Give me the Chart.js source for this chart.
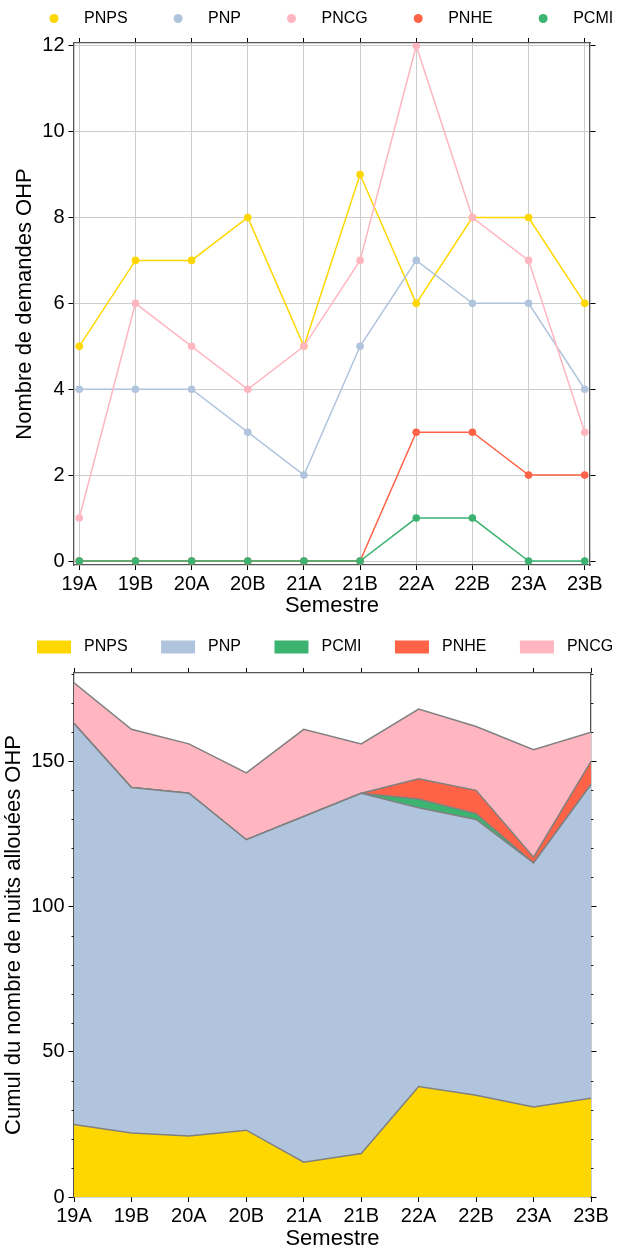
<!DOCTYPE html>
<html>
<head>
<meta charset="utf-8">
<script src="https://cdn.jsdelivr.net/npm/chart.js@4.4.1/dist/chart.umd.min.js"></script>
<style>
  html, body { margin:0; padding:0; background:#fff; overflow:hidden; }
  canvas { position:absolute; left:0; }
  #demandesChart { top:0; }
  #nuitsChart { top:625px; }
</style>
</head>
<body>
<canvas id="demandesChart" width="619" height="625"></canvas>
<canvas id="nuitsChart" width="619" height="622"></canvas>
<script>
const semestres = ['19A','19B','20A','20B','21A','21B','22A','22B','23A','23B'];

// nombre de demandes OHP par programme
const demandesPNPS = [5, 7, 7, 8, 5, 9, 6, 8, 8, 6];
const demandesPNP  = [4, 4, 4, 3, 2, 5, 7, 6, 6, 4];
const demandesPNCG = [1, 6, 5, 4, 5, 7, 12, 8, 7, 3];
const demandesPNHE = [0, 0, 0, 0, 0, 0, 3, 3, 2, 2];
const demandesPCMI = [0, 0, 0, 0, 0, 0, 1, 1, 0, 0];
const demandesTicks = [0, 2, 4, 6, 8, 10, 12];

// nuits allouées OHP (empilées)
const nuitsPNPS = [25, 22, 21, 23, 12, 15, 38, 35, 31, 34];
const nuitsPNP  = [138, 119, 118, 100, 119, 124, 96, 95, 84, 108];
const nuitsPCMI = [0, 0, 0, 0, 0, 0, 3, 2, 0, 0];
const nuitsPNHE = [0, 0, 0, 0, 0, 0, 7, 8, 2, 8];
const nuitsPNCG = [14, 20, 17, 23, 30, 17, 24, 22, 37, 10];
const nuitsTicks = [0, 50, 100, 150];
const nuitsMinorTicks = [10, 20, 30, 40, 60, 70, 80, 90, 110, 120, 130, 140, 160, 170, 180];

const COLORS = { PNPS:'#FFD700', PNP:'#B0C4DE', PNCG:'#FFB6C1', PNHE:'#FF6347', PCMI:'#3CB371' };
const FONT = "'Liberation Sans', Arial, sans-serif";
Chart.defaults.font.family = FONT;
Chart.defaults.color = '#000';

const toPoints = vals => vals.map((v, i) => ({x: i, y: v}));
const semTicks = s => { s.ticks = semestres.map((_, i) => ({value: i})); };

// legende sur une ligne, façon matplotlib
const rowLegend = {
  id: 'rowLegend',
  afterDraw(chart, args, opts){
    const ctx = chart.ctx;
    ctx.save();
    ctx.font = '16px ' + FONT;
    ctx.textBaseline = 'middle';
    let x = opts.x;
    chart.data.datasets.forEach(ds => {
      ctx.fillStyle = ds.legendColor;
      if(opts.marker === 'circle'){
        ctx.beginPath(); ctx.arc(x, opts.y, 4.5, 0, Math.PI*2); ctx.fill();
      } else {
        ctx.fillRect(x - 17, opts.y - 6.5, 34, 13);
      }
      ctx.fillStyle = '#000';
      ctx.fillText(ds.label, x + 30, opts.y);
      x += 30 + ctx.measureText(ds.label).width + 50.5;
    });
    ctx.restore();
  }
};

const minorTicks = {
  id: 'minorTicks',
  afterDraw(chart, args, opts){
    if(!opts.values) return;
    const {ctx, chartArea: a} = chart;
    const y = chart.scales.y;
    ctx.save();
    ctx.strokeStyle = '#222'; ctx.lineWidth = 1;
    opts.values.forEach(v => {
      const p = Math.round(y.getPixelForValue(v)) + 0.5;
      ctx.beginPath();
      ctx.moveTo(a.left - opts.length, p); ctx.lineTo(a.left, p);
      ctx.moveTo(a.right, p); ctx.lineTo(a.right + opts.length, p);
      ctx.stroke();
    });
    ctx.restore();
  }
};

const frame = { color:'#555', width:1.3 };

function axisX(min, max, h, titlePad, drawGrid){
  return {
    type:'linear', position:'bottom', min, max,
    afterBuildTicks: semTicks,
    afterFit: s => { s.height = h; },
    ticks: { callback: v => semestres[v], font:{size:20}, padding:2, maxRotation:0, autoSkip:false },
    grid: { display:true, drawOnChartArea:drawGrid, color:'#cccccc', lineWidth:1, tickLength:5, tickColor:'#000', tickWidth:1 },
    border: frame,
    title: { display:true, text:'Semestre', font:{size:22}, padding:titlePad }
  };
}
function axisXTop(min, max, h){
  return {
    type:'linear', position:'top', min, max,
    afterBuildTicks: semTicks,
    afterFit: s => { s.height = h; },
    ticks: { display:false },
    grid: { drawOnChartArea:false, tickLength:5, tickColor:'#000', tickWidth:1 },
    border: frame
  };
}
function axisY(min, max, w, ticks, title, titlePad, drawGrid){
  return {
    type:'linear', position:'left', min, max,
    afterBuildTicks: s => { s.ticks = ticks.map(v => ({value:v})); },
    afterFit: s => { s.width = w; },
    ticks: { font:{size:20}, padding:4 },
    grid: { drawOnChartArea:drawGrid, color:'#cccccc', lineWidth:1, tickLength:5.5, tickColor:'#000', tickWidth:1 },
    border: frame,
    title: { display:true, text:title, font:{size:22}, padding:titlePad }
  };
}
function axisYRight(min, max, w, ticks){
  return {
    type:'linear', position:'right', min, max,
    afterBuildTicks: s => { s.ticks = ticks.map(v => ({value:v})); },
    afterFit: s => { s.width = w; },
    ticks: { display:false },
    grid: { drawOnChartArea:false, tickLength:5.5, tickColor:'#000', tickWidth:1 },
    border: frame
  };
}

// --- graphique 1 : demandes
const lineSet = (label, vals, order) => ({
  label, data: toPoints(vals), order,
  borderColor: COLORS[label], backgroundColor: COLORS[label], legendColor: COLORS[label],
  borderWidth: 1.5, pointRadius: 3.8, pointBorderWidth: 0, pointBackgroundColor: COLORS[label],
  tension: 0, fill: false
});

new Chart(document.getElementById('demandesChart'), {
  type: 'line',
  data: { datasets: [
    lineSet('PNPS', demandesPNPS, 4),
    lineSet('PNP', demandesPNP, 3),
    lineSet('PNCG', demandesPNCG, 2),
    lineSet('PNHE', demandesPNHE, 1),
    lineSet('PCMI', demandesPCMI, 0)
  ]},
  options: {
    responsive: false, animation: false,
    layout: { padding: 0 },
    plugins: {
      legend: { display:false }, tooltip: { enabled:false },
      rowLegend: { x:54, y:18.5, marker:'circle' }
    },
    scales: {
      x: axisX(-0.094, 9.094, 60, {top:0, bottom:5.8}, true),
      xTop: axisXTop(-0.094, 9.094, 43),
      y: axisY(-0.093, 12.063, 74, demandesTicks, 'Nombre de demandes OHP', {top:11.8, bottom:0}, true),
      yRight: axisYRight(-0.093, 12.063, 29, demandesTicks)
    }
  },
  plugins: [rowLegend]
});

// --- graphique 2 : cumul des nuits
const areaSet = (label, vals, fill) => ({
  label, data: toPoints(vals), fill,
  borderColor: '#808080', backgroundColor: COLORS[label], legendColor: COLORS[label],
  borderWidth: 1.5, pointRadius: 0, tension: 0
});

new Chart(document.getElementById('nuitsChart'), {
  type: 'line',
  data: { datasets: [
    areaSet('PNPS', nuitsPNPS, 'origin'),
    areaSet('PNP', nuitsPNP, '-1'),
    areaSet('PCMI', nuitsPCMI, '-1'),
    areaSet('PNHE', nuitsPNHE, '-1'),
    areaSet('PNCG', nuitsPNCG, '-1')
  ]},
  options: {
    responsive: false, animation: false,
    layout: { padding: 0 },
    plugins: {
      legend: { display:false }, tooltip: { enabled:false },
      filler: { propagate:false },
      rowLegend: { x:54, y:22, marker:'rect' },
      minorTicks: { values: nuitsMinorTicks, length: 2.5 }
    },
    scales: {
      x: axisX(0, 9, 50, {top:0, bottom:-5.2}, false),
      xTop: axisXTop(0, 9, 48),
      y: Object.assign(axisY(0, 180.4, 74, nuitsTicks, 'Cumul du nombre de nuits allouées OHP', {top:0.8, bottom:0}, false), { stacked:true }),
      yRight: axisYRight(0, 180.4, 28, nuitsTicks)
    }
  },
  plugins: [rowLegend, minorTicks]
});
</script>
</body>
</html>
